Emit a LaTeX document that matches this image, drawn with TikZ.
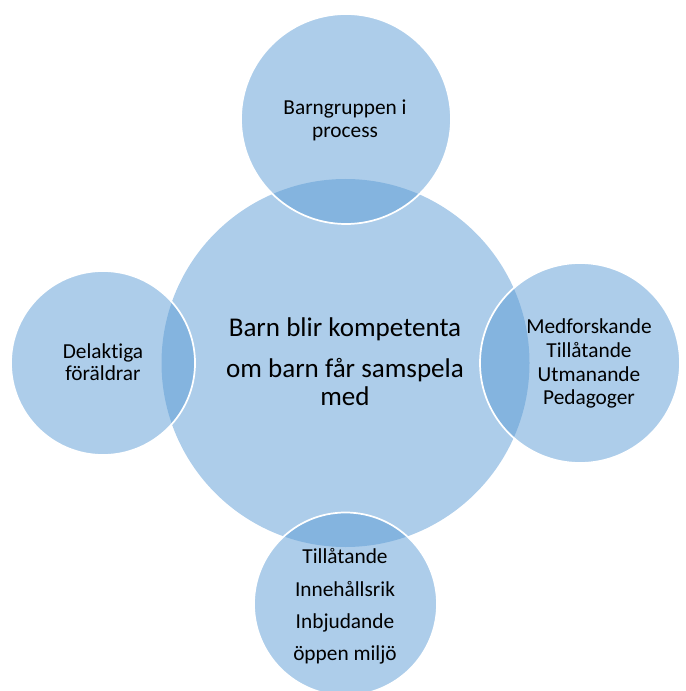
\documentclass[tikz,border=0pt]{standalone}
\usepackage{fontspec}
\setmainfont{Carlito}[Ligatures={NoCommon,NoContextual,NoRequired}]
\definecolor{bub}{HTML}{5B9BD5}
\begin{document}
\begin{tikzpicture}[x=0.75pt,y=-0.75pt,
  bubble/.style={circle,fill=bub,fill opacity=0.5,inner sep=0pt,draw=white,line width=1.3pt},
  mainbubble/.style={circle,fill=bub,fill opacity=0.5,inner sep=0pt,draw=none},
  bigtxt/.style={anchor=base,inner sep=0pt,font=\fontsize{20.3}{24}\selectfont,text=black},
  txt/.style={anchor=base,inner sep=0pt,font=\fontsize{16}{19}\selectfont,text=black}]
\useasboundingbox (0,0) rectangle (685,691);
\node[mainbubble,minimum size=368*0.75pt] (main) at (345.5,363) {};
\node[bubble,minimum size=210*0.75pt] (top) at (346,119) {};
\node[bubble,minimum size=184*0.75pt] (left) at (103,363) {};
\node[bubble,minimum size=200*0.75pt] (right) at (580,363) {};
\node[bubble,minimum size=183*0.75pt] (bottom) at (345.5,604) {};
% main text
\node[bigtxt] (m1) at (345,336) {Barn blir kompetenta};
\node[bigtxt] (m2) at (345,377) {om barn får samspela};
\node[bigtxt] (m3) at (345,405) {med};
% top
\node[txt] (t1) at (345,115) {Barngruppen i};
\node[txt] (t2) at (345,138) {process};
% left
\node[txt] (l1) at (103,358) {Delaktiga};
\node[txt] (l2) at (103,380) {föräldrar};
% right
\node[txt] (r1) at (589,333) {Medforskande};
\node[txt] (r2) at (589,357) {Tillåtande};
\node[txt] (r3) at (589,381) {Utmanande};
\node[txt] (r4) at (589,404) {Pedagoger};
% bottom
\node[txt] (b1) at (345,563) {Tillåtande};
\node[txt] (b2) at (345,596) {Innehållsrik};
\node[txt] (b3) at (345,628) {Inbjudande};
\node[txt] (b4) at (345,660) {öppen miljö};
\end{tikzpicture}
\end{document}
